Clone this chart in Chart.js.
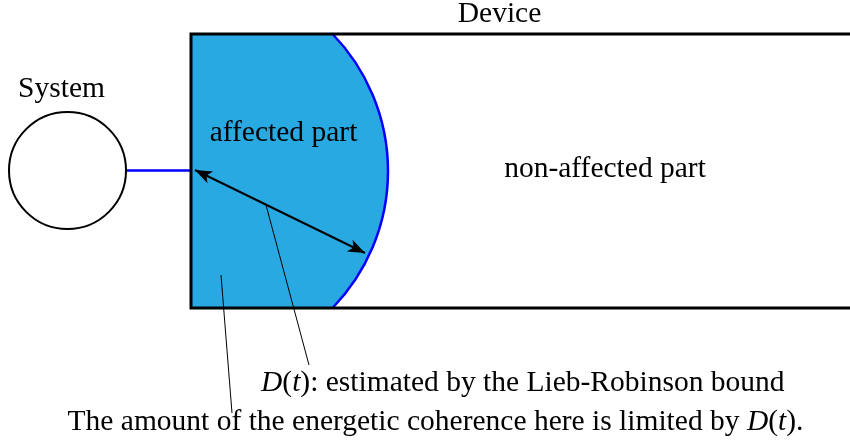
<!DOCTYPE html>
<html lang="en">
<head>
    <meta charset="UTF-8">
    <title>Device / System diagram</title>
    <script src="https://cdn.jsdelivr.net/npm/chart.js"></script>
    <style>
        html, body {
            margin: 0;
            padding: 0;
            background: #fff;
        }
        .chart-container {
            position: relative;
            width: 850px;
            height: 443px;
        }
    </style>
</head>
<body>
    <div class="chart-container">
        <canvas id="diagram"></canvas>
    </div>

    <script>
        // diagram geometry, in the same units as the picture (x right, y down)
        const deviceBox = [[850, 34], [191, 34], [191, 308], [850, 308]];
        const affectedCenter = [191, 171];
        const affectedRadius = 197;
        const affectedRange = [34, 308];
        const systemCenter = [67.5, 170.5];
        const systemRadius = 58.5;
        const coupling = [[126, 170.5], [191, 170.5]];
        const distanceArrow = [[195, 170], [365, 253]];
        const leaderD = [[266, 205], [309, 365]];
        const leaderCoherence = [[221, 275], [232, 413]];

        // label anchors are text baselines
        const labelTexts = ['Device', 'System', 'affected part', 'non-affected part'];
        const labelPos = [[499.5, 22], [61.5, 97], [283.5, 141], [605, 177]];

        const captionD = ['D', '(', 't', '): estimated by the Lieb-Robinson bound'];
        const captionCoherence = ['The amount of the energetic coherence here is limited by ', 'D', '(', 't', ').'];
        const captionDPos = [261, 391];
        const captionCoherencePos = [435.5, 430];

        const FONT = '"Liberation Serif", "Times New Roman", serif';
        const FONT_SIZE = 29.5;

        const pts = arr => arr.map(p => ({ x: p[0], y: p[1] }));

        function px(chart, p) {
            return [chart.scales.x.getPixelForValue(p[0]), chart.scales.y.getPixelForValue(p[1])];
        }

        function drawRich(ctx, parts, italics, x, y, align) {
            const fonts = parts.map((s, i) => (italics[i] ? 'italic ' : '') + FONT_SIZE + 'px ' + FONT);
            let total = 0;
            parts.forEach((s, i) => { ctx.font = fonts[i]; total += ctx.measureText(s).width; });
            let cx = align === 'center' ? x - total / 2 : x;
            ctx.textAlign = 'left';
            parts.forEach((s, i) => {
                ctx.font = fonts[i];
                ctx.fillText(s, cx, y);
                cx += ctx.measureText(s).width;
            });
        }

        function arrowHead(ctx, from, to) {
            const ang = Math.atan2(to[1] - from[1], to[0] - from[0]);
            const len = 17, half = 6.5;
            const cos = Math.cos(ang), sin = Math.sin(ang);
            ctx.beginPath();
            ctx.moveTo(to[0], to[1]);
            ctx.lineTo(to[0] - len * cos + half * sin, to[1] - len * sin - half * cos);
            ctx.lineTo(to[0] - len * 0.75 * cos, to[1] - len * 0.75 * sin);
            ctx.lineTo(to[0] - len * cos - half * sin, to[1] - len * sin + half * cos);
            ctx.closePath();
            ctx.fill();
        }

        // blue affected region, drawn before the datasets
        const regionPlugin = {
            id: 'region',
            beforeDatasetsDraw(chart) {
                const ctx = chart.ctx;
                const c = px(chart, affectedCenter);
                const r = chart.scales.x.getPixelForValue(affectedCenter[0] + affectedRadius) - c[0];
                const top = px(chart, [0, affectedRange[0]])[1];
                const bottom = px(chart, [0, affectedRange[1]])[1];
                const a0 = Math.asin((top - c[1]) / r);
                const a1 = Math.asin((bottom - c[1]) / r);
                ctx.save();
                ctx.beginPath();
                ctx.moveTo(c[0], top);
                ctx.arc(c[0], c[1], r, a0, a1, false);
                ctx.lineTo(c[0], bottom);
                ctx.closePath();
                ctx.fillStyle = '#29a9e1';
                ctx.fill();
                ctx.beginPath();
                ctx.arc(c[0], c[1], r, a0, a1, false);
                ctx.strokeStyle = '#0000ff';
                ctx.lineWidth = 2.5;
                ctx.stroke();
                ctx.restore();
            }
        };

        // circle, arrow heads and texts
        const overlayPlugin = {
            id: 'overlay',
            afterDatasetsDraw(chart) {
                const ctx = chart.ctx;
                ctx.save();
                const c = px(chart, systemCenter);
                const r = chart.scales.x.getPixelForValue(systemCenter[0] + systemRadius) - c[0];
                ctx.beginPath();
                ctx.arc(c[0], c[1], r, 0, Math.PI * 2);
                ctx.strokeStyle = '#000';
                ctx.lineWidth = 2;
                ctx.stroke();

                const a = px(chart, distanceArrow[0]);
                const b = px(chart, distanceArrow[1]);
                ctx.fillStyle = '#000';
                arrowHead(ctx, a, b);
                arrowHead(ctx, b, a);

                ctx.textBaseline = 'alphabetic';
                labelTexts.forEach((t, i) => {
                    const p = px(chart, labelPos[i]);
                    drawRich(ctx, [t], [false], p[0], p[1], 'center');
                });
                let p = px(chart, captionDPos);
                drawRich(ctx, captionD, [true, false, true, false], p[0], p[1], 'left');
                p = px(chart, captionCoherencePos);
                drawRich(ctx, captionCoherence, [false, true, false, true, false], p[0], p[1], 'center');
                ctx.restore();
            }
        };

        const lineSet = (data, color, width) => ({
            data: pts(data),
            showLine: true,
            borderColor: color,
            borderWidth: width,
            pointRadius: 0,
            fill: false,
            tension: 0
        });

        new Chart(document.getElementById('diagram').getContext('2d'), {
            type: 'scatter',
            data: {
                datasets: [
                    lineSet(deviceBox, '#000', 3),
                    lineSet(coupling, '#0000ff', 2.5),
                    lineSet(distanceArrow, '#000', 2),
                    lineSet(leaderD, '#000', 1),
                    lineSet(leaderCoherence, '#000', 1)
                ]
            },
            options: {
                responsive: true,
                maintainAspectRatio: false,
                animation: false,
                layout: { padding: 0 },
                scales: {
                    x: { type: 'linear', min: 0, max: 850, display: false },
                    y: { type: 'linear', min: 0, max: 443, reverse: true, display: false }
                },
                plugins: {
                    legend: { display: false },
                    tooltip: { enabled: false }
                },
                events: []
            },
            plugins: [regionPlugin, overlayPlugin]
        });
    </script>
</body>
</html>
